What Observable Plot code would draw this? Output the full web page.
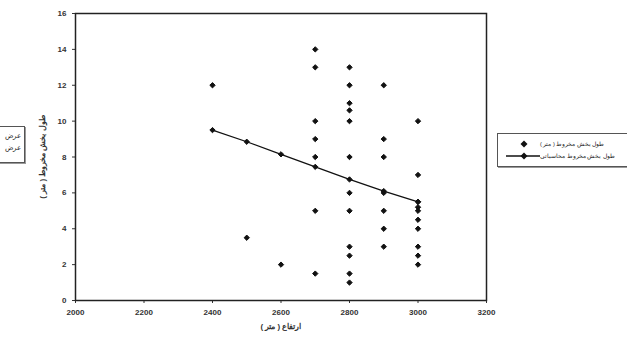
<!DOCTYPE html>
<html>
<head>
<meta charset="utf-8">
<script src="https://cdn.jsdelivr.net/npm/d3@7"></script>
<script src="https://cdn.jsdelivr.net/npm/@observablehq/plot@0.6"></script>
<style>
  html, body { margin: 0; padding: 0; background: #fff; }
  #wrap { position: relative; width: 627px; height: 345px; overflow: hidden; font-family: "Liberation Sans", Arial, sans-serif; }
  .legend { position: absolute; background: #fff; border: 1px solid #555; box-shadow: 1px 1px 0 #999; font-size: 5.6px; color: #222; }
  .legend .row { display: flex; align-items: center; height: 12px; white-space: nowrap; }
</style>
</head>
<body>
<div id="wrap"></div>
<script>
// Measured points (altitude in m, length in m)
const scatterX = [
  2400,
  2500,
  2600,
  2700, 2700, 2700, 2700, 2700, 2700, 2700,
  2800, 2800, 2800, 2800, 2800, 2800, 2800, 2800, 2800, 2800, 2800, 2800,
  2900, 2900, 2900, 2900, 2900, 2900, 2900,
  3000, 3000, 3000, 3000, 3000, 3000, 3000, 3000, 3000, 3000
];
const scatterY = [
  12,
  3.5,
  2,
  14, 13, 10, 9, 8, 5, 1.5,
  13, 12, 11, 10.6, 10, 8, 6, 5, 3, 2.5, 1.5, 1,
  12, 9, 8, 6, 5, 4, 3,
  10, 7, 5.5, 5.2, 5, 4.5, 4, 3, 2.5, 2
];
// Computed line
const lineX = [2400, 2500, 2600, 2700, 2800, 2900, 3000];
const lineY = [9.5, 8.85, 8.15, 7.45, 6.75, 6.1, 5.5];

const xTicks = [2000, 2200, 2400, 2600, 2800, 3000, 3200];
const yTicks = [0, 2, 4, 6, 8, 10, 12, 14, 16];

const seriesMeasured = "طول بخش مخروط ( متر )";
const seriesComputed = "طول بخش مخروط محاسباتی";
const xLabel = "ارتفاع ( متر )";
const yLabel = "طول بخش مخروط ( متر )";

const points = scatterX.map((x, i) => ({x, y: scatterY[i]}));
const line = lineX.map((x, i) => ({x, y: lineY[i]}));

const chart = Plot.plot({
  width: 627,
  height: 345,
  marginLeft: 75,
  marginRight: 141,
  marginTop: 13,
  marginBottom: 45,
  style: {fontFamily: "Liberation Sans, Arial, sans-serif", fontSize: "8px", fontWeight: "bold", color: "#333", background: "transparent"},
  x: {domain: [2000, 3200], ticks: xTicks, tickFormat: d => String(d), tickSize: 3, label: xLabel, labelAnchor: "center", labelArrow: "none", labelOffset: 28},
  y: {domain: [0, 16], ticks: yTicks, tickSize: 3, label: yLabel, labelAnchor: "center", labelArrow: "none", labelOffset: 36},
  marks: [
    Plot.frame({stroke: "#222", strokeWidth: 1.5}),
    Plot.line(line, {x: "x", y: "y", stroke: "#111", strokeWidth: 1.3}),
    Plot.dot(line, {x: "x", y: "y", symbol: "diamond2", r: 2.4, fill: "#111", stroke: "#111", strokeWidth: 1}),
    Plot.dot(points, {x: "x", y: "y", symbol: "diamond2", r: 2.4, fill: "#111", stroke: "#111", strokeWidth: 1})
  ]
});
document.getElementById("wrap").appendChild(chart);

// Right legend
const leg = document.createElement("div");
leg.className = "legend";
leg.style.left = "497px"; leg.style.top = "133px"; leg.style.width = "140px"; leg.style.padding = "4px 0 4px 4px";
const dia = `<path d="M22,1.5 L25.5,5 L22,8.5 L18.5,5 Z" fill="#111"/>`;
leg.innerHTML = `
  <div class="row"><svg width="38" height="10">${dia}</svg><span dir="rtl">${seriesMeasured}</span></div>
  <div class="row"><svg width="38" height="10"><line x1="4" y1="5" x2="38" y2="5" stroke="#111" stroke-width="1.3"/>${dia}</svg><span dir="rtl">${seriesComputed}</span></div>`;
document.getElementById("wrap").appendChild(leg);

// Left clipped legend fragment
const leg2 = document.createElement("div");
leg2.className = "legend";
leg2.style.left = "-40px"; leg2.style.top = "126px"; leg2.style.width = "63px"; leg2.style.height = "35px";
leg2.style.fontSize = "6.5px";
leg2.style.textAlign = "right";
leg2.innerHTML = `<div style="padding:5px 3px 0 0" dir="rtl">عرض</div><div style="padding:4px 3px 0 0" dir="rtl">عرض</div>`;
document.getElementById("wrap").appendChild(leg2);
</script>
</body>
</html>
